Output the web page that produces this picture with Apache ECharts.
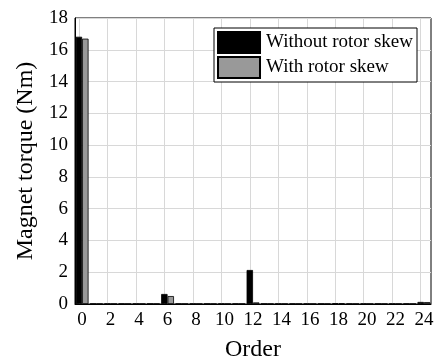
<!DOCTYPE html>
<html><head><meta charset="utf-8">
<script src="https://cdn.jsdelivr.net/npm/echarts@6/dist/echarts.min.js"></script>
<style>html,body{margin:0;padding:0;background:#fff}#c{width:443px;height:358px}</style>
</head><body><div id="c"></div>
<script>
const orders = ['0','1','2','3','4','5','6','7','8','9','10','11','12','13','14','15','16','17','18','19','20','21','22','23','24'];
const withoutSkew = [16.82,0.02,0.02,0.02,0.02,0.02,0.63,0.02,0.02,0.02,0.02,0.02,2.14,0.02,0.02,0.02,0.02,0.02,0.05,0.02,0.02,0.02,0.02,0.02,0.13];
const withSkew    = [16.70,0.01,0.01,0.01,0.01,0.01,0.50,0.01,0.01,0.01,0.01,0.01,0.10,0.01,0.01,0.01,0.01,0.01,0.04,0.01,0.01,0.01,0.01,0.01,0.12];
const yTicks = [0,2,4,6,8,10,12,14,16,18];
const font = 'Liberation Serif';
const chart = echarts.init(document.getElementById('c'), null, {renderer:'canvas'});
const evenOrders = orders.filter(o => (+o) % 2 === 0);
chart.setOption({
  animation:false,
  backgroundColor:'#fff',
  grid:{left:75,right:12,top:18,bottom:54,show:true,borderColor:'#000',borderWidth:1,containLabel:false,outerBoundsMode:'none'},
  legend:{
    orient:'vertical', right:26, top:28,
    backgroundColor:'#fff', borderColor:'#000', borderWidth:1, padding:[3,4,3,3],
    itemWidth:42, itemHeight:21, itemGap:2, icon:'rect',
    textStyle:{fontFamily:font,fontSize:19,color:'#000',padding:[0,0,0,1]},
    data:['Without rotor skew','With rotor skew']
  },
  xAxis:{
    type:'category', data:orders, boundaryGap:true,
    name:'Order', nameLocation:'middle', nameGap:34,
    nameTextStyle:{fontFamily:font,fontSize:24,color:'#000'},
    axisLine:{lineStyle:{color:'#000',width:1}},
    axisTick:{show:false},
    axisLabel:{interval:(i)=>i%2===0, fontFamily:font,fontSize:19,color:'#000',margin:7},
    splitLine:{show:false}
  },
  yAxis:{
    type:'value', min:yTicks[0], max:yTicks[yTicks.length-1], interval:2,
    name:'Magnet torque (Nm)', nameLocation:'middle', nameGap:35,
    nameTextStyle:{fontFamily:font,fontSize:24,color:'#000'},
    axisLine:{show:true,lineStyle:{color:'#000',width:1}},
    axisTick:{show:false},
    axisLabel:{fontFamily:font,fontSize:19,color:'#000',margin:7},
    splitLine:{show:true,lineStyle:{color:'#d8d8d8',width:1}}
  },
  series:[
    {name:'Without rotor skew', type:'bar', data:withoutSkew, barGap:'0%', barCategoryGap:'10%',
     itemStyle:{color:'#000',borderColor:'#000',borderWidth:0.8}, z:3,
     markLine:{silent:true, symbol:'none', z:1, label:{show:false},
       lineStyle:{color:'#d8d8d8',width:1,type:'solid'},
       data: evenOrders.map(o=>({xAxis:o}))}},
    {name:'With rotor skew', type:'bar', data:withSkew, barGap:'0%', barCategoryGap:'10%',
     itemStyle:{color:'#999',borderColor:'#000',borderWidth:0.8}, z:3}
  ]
});
</script></body></html>
